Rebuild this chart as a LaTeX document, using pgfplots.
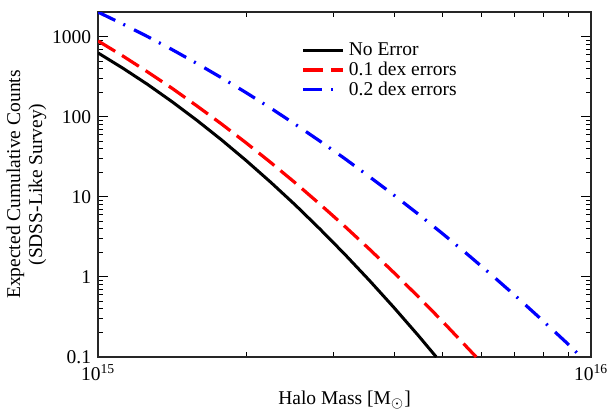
\documentclass[border=0pt]{standalone}
\usepackage{fontspec}
\setmainfont{Liberation Serif}
\usepackage{pgfplots}
\pgfplotsset{compat=1.18}

\begin{document}
\begin{tikzpicture}
\begin{loglogaxis}[
    scale only axis,
    width=246.5pt,
    height=172.5pt,
    xmin=1e15, xmax=1e16,
    ymin=0.1, ymax=2050,
    xtick={1e15,1e16},
    xticklabels={10\textsuperscript{15},10\textsuperscript{16}},
    ytick={0.1,1,10,100,1000},
    yticklabels={0.1,1,10,100,1000},
    font=\rmfamily\fontsize{9.75}{11}\selectfont,
    tick label style={font=\rmfamily\fontsize{9.75}{11}\selectfont},
    major tick length=5pt,
    minor tick length=2.5pt,
    tick style={black, line width=0.5pt},
    axis line style={line width=0.8pt, black!85},
    xlabel={Halo Mass [M$_\odot$]},
    ylabel={Expected Cumulative Counts\\(SDSS-Like Survey)},
    ylabel style={align=center, yshift=-4pt},
    xlabel style={yshift=1.5pt},
    legend style={draw=none, fill=none, at={(0.40,0.935)}, anchor=north west,
        font=\rmfamily\fontsize{9.75}{11}\selectfont, row sep=-2.4pt},
    legend cell align=left,
    legend image code/.code={\draw[#1] (0pt,0pt) -- (20pt,0pt);},
]
% no error
\addplot[black, line width=1.5pt] coordinates {
    (1.000e15,631) (1.122e15,408) (1.259e15,256) (1.413e15,155)
    (1.585e15,91.2) (1.778e15,52.0) (1.995e15,28.7) (2.239e15,15.3)
    (2.512e15,7.94) (2.818e15,3.98) (3.162e15,1.935) (3.548e15,0.911)
    (3.981e15,0.416) (4.467e15,0.184) (4.853e15,0.1)
};
% 0.1 dex
\addplot[red, line width=1.6pt, dash pattern=on 10pt off 4pt] coordinates {
    (1.000e15,891) (1.122e15,579) (1.259e15,367) (1.413e15,228)
    (1.585e15,138) (1.778e15,82.1) (1.995e15,47.7) (2.239e15,27.0)
    (2.512e15,15.0) (2.818e15,8.13) (3.162e15,4.32) (3.548e15,2.24)
    (3.981e15,1.135) (4.467e15,0.563) (5.012e15,0.273) (5.623e15,0.129)
    (5.848e15,0.1)
};
% 0.2 dex
\addplot[blue, line width=1.6pt, dash pattern=on 9.5pt off 4.5pt on 1pt off 5pt] coordinates {
    (1.000e15,2042) (1.122e15,1451) (1.259e15,1013) (1.413e15,695)
    (1.585e15,468) (1.778e15,310) (1.995e15,202) (2.239e15,129)
    (2.512e15,80.9) (2.818e15,49.9) (3.162e15,30.3) (3.548e15,18.0)
    (3.981e15,10.55) (4.467e15,6.07) (5.012e15,3.43) (5.623e15,1.903)
    (6.310e15,1.037) (7.079e15,0.556) (7.943e15,0.2925) (8.913e15,0.1514)
    (9.550e15,0.1)
};
\legend{No Error, 0.1 dex errors, 0.2 dex errors}
\end{loglogaxis}
\pgfresetboundingbox
\path (current axis.south west) ++(-49pt,-26pt) coordinate (bl);
\path (current axis.north east) ++(9.5pt,6pt) coordinate (tr);
\path (bl) rectangle (tr);
\end{tikzpicture}
\end{document}
